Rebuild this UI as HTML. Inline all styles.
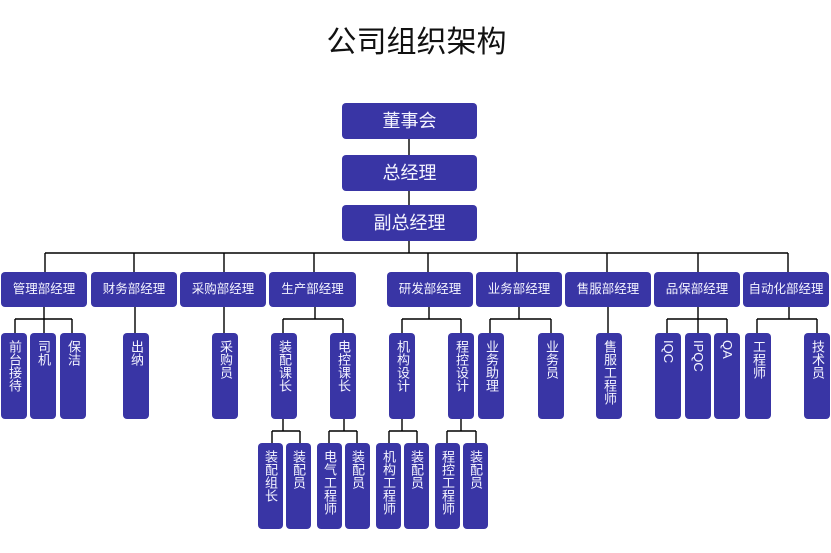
<!DOCTYPE html>
<html>
<head>
<meta charset="utf-8">
<style>
*{margin:0;padding:0;box-sizing:border-box;}
html,body{width:831px;height:553px;background:#fff;overflow:hidden;}
body{position:relative;font-family:"Liberation Sans","Noto Sans CJK SC",sans-serif;}
.t{position:absolute;left:0;top:26px;width:831px;text-align:center;font-size:30px;line-height:34px;color:#111;left:1px;}
.b{position:absolute;background:#3935a5;color:#f4f4ff;border-radius:4px;text-align:center;}
.top{left:342px;width:135px;height:36px;line-height:36px;font-size:18px;}
.d{top:272px;height:35px;line-height:35px;font-size:12.5px;width:86px;}
.v{top:333px;height:86px;width:26px;font-size:13px;}
.w{top:443px;height:86px;width:25px;font-size:13px;}
.v span,.w span{position:absolute;left:0;right:0;top:7px;margin:0 auto;writing-mode:vertical-rl;line-height:26px;width:26px;}
.w span{width:25px;line-height:25px;}
svg{position:absolute;left:0;top:0;}
</style>
</head>
<body>
<div class="t">公司组织架构</div>
<svg width="831" height="553" viewBox="0 0 831 553">
<g stroke="#000" stroke-width="1.4" fill="none">
<path d="M409 139V155M409 191V205M409 241V253"/>
<path d="M45 253H788"/>
<path d="M45 253V272M134 253V272M224 253V272M314 253V272M428 253V272M517 253V272M607 253V272M698 253V272M788 253V272"/>
<path d="M44 307V319M15 319H72M15 319V333M44 319V333M72 319V333"/>
<path d="M135 307V333M224 307V333M608 307V333"/>
<path d="M315 307V319M283 319H343M283 319V333M343 319V333"/>
<path d="M429 307V319M402 319H461M402 319V333M461 319V333"/>
<path d="M519 307V319M490 319H551M490 319V333M551 319V333"/>
<path d="M698 307V319M667 319H727M667 319V333M698 319V333M727 319V333"/>
<path d="M789 307V319M757 319H817M757 319V333M817 319V333"/>
<path d="M283 419V431M272 431H300M272 431V443M300 431V443"/>
<path d="M344 419V431M329 431H357M329 431V443M357 431V443"/>
<path d="M402 419V431M389 431H417M389 431V443M417 431V443"/>
<path d="M461 419V431M447 431H476M447 431V443M476 431V443"/>
</g>
</svg>

<div class="b top" style="top:103px;">董事会</div>
<div class="b top" style="top:155px;">总经理</div>
<div class="b top" style="top:205px;">副总经理</div>

<div class="b d" style="left:1px;">管理部经理</div>
<div class="b d" style="left:91px;">财务部经理</div>
<div class="b d" style="left:180px;">采购部经理</div>
<div class="b d" style="left:269px;width:87px;">生产部经理</div>
<div class="b d" style="left:387px;">研发部经理</div>
<div class="b d" style="left:476px;">业务部经理</div>
<div class="b d" style="left:565px;">售服部经理</div>
<div class="b d" style="left:654px;">品保部经理</div>
<div class="b d" style="left:743px;">自动化部经理</div>

<div class="b v" style="left:1px;"><span>前台接待</span></div>
<div class="b v" style="left:30px;"><span>司机</span></div>
<div class="b v" style="left:60px;"><span>保洁</span></div>
<div class="b v" style="left:123px;"><span>出纳</span></div>
<div class="b v" style="left:212px;"><span>采购员</span></div>
<div class="b v" style="left:271px;"><span>装配课长</span></div>
<div class="b v" style="left:330px;"><span>电控课长</span></div>
<div class="b v" style="left:389px;"><span>机构设计</span></div>
<div class="b v" style="left:448px;"><span>程控设计</span></div>
<div class="b v" style="left:478px;"><span>业务助理</span></div>
<div class="b v" style="left:538px;"><span>业务员</span></div>
<div class="b v" style="left:596px;"><span>售服工程师</span></div>
<div class="b v" style="left:655px;"><span>IQC</span></div>
<div class="b v" style="left:685px;"><span>IPQC</span></div>
<div class="b v" style="left:714px;"><span>QA</span></div>
<div class="b v" style="left:745px;"><span>工程师</span></div>
<div class="b v" style="left:804px;"><span>技术员</span></div>

<div class="b w" style="left:258px;"><span>装配组长</span></div>
<div class="b w" style="left:286px;"><span>装配员</span></div>
<div class="b w" style="left:317px;"><span>电气工程师</span></div>
<div class="b w" style="left:345px;"><span>装配员</span></div>
<div class="b w" style="left:376px;"><span>机构工程师</span></div>
<div class="b w" style="left:404px;"><span>装配员</span></div>
<div class="b w" style="left:435px;"><span>程控工程师</span></div>
<div class="b w" style="left:463px;"><span>装配员</span></div>
</body>
</html>
